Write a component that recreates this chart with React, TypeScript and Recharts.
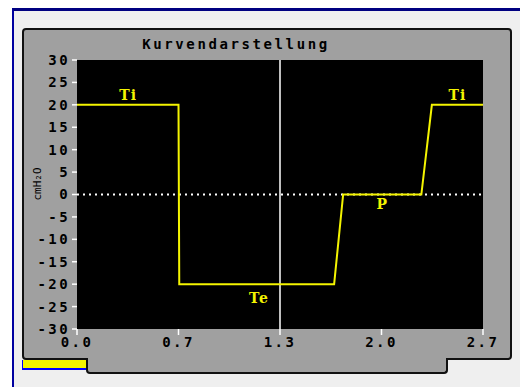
import { LineChart, Line, XAxis, YAxis, ReferenceLine, Scatter, ReferenceArea } from 'recharts';

// pressure curve (time in s, pressure in cmH2O)
const times = [0, 0.675, 0.68, 1.71, 1.77, 2.29, 2.36, 2.7];
const pressures = [20, 20, -20, -20, 0, 0, 20, 20];

const xTicks = [0, 0.675, 1.35, 2.025, 2.7];
const xTickLabels = ['0.0', '0.7', '1.3', '2.0', '2.7'];
const yTicks = [-30, -25, -20, -15, -10, -5, 0, 5, 10, 15, 20, 25, 30];

const phaseNames = ['Ti', 'Te', 'P', 'Ti'];
const phaseX = [0.34, 1.21, 2.03, 2.53];
const phaseY = [21, -24.3, -3.2, 21];

const cursorX = 1.35;

const curve = times.map((t, i) => ({ x: t, y: pressures[i] }));
const phases = phaseNames.map((name, i) => ({ x: phaseX[i], y: phaseY[i], name }));

const MONO = '"DejaVu Sans Mono", monospace';
const YELLOW = '#f4f400';
const PANEL = '#a0a0a0';

const tickStyle = { fill: '#000', fontFamily: MONO, fontWeight: 'bold', fontSize: 14, letterSpacing: 2.4 };

const PhaseLabel = (props: any) => {
  const { cx, cy, payload } = props;
  return (
    <text
      x={cx}
      y={cy}
      textAnchor="middle"
      fill={YELLOW}
      fontFamily='"DejaVu Serif", serif'
      fontWeight="bold"
      fontSize={14}
      letterSpacing={1}
    >
      {payload.name}
    </text>
  );
};

export default function App() {
  return (
    <div style={{ position: 'absolute', left: 0, top: 0, width: 520, height: 387, background: '#fff', overflow: 'hidden' }}>
      {/* window frame */}
      <div style={{ position: 'absolute', left: 12, top: 8, right: 0, bottom: 0, background: '#efefef', borderTop: '3px solid #000080', borderLeft: '2px solid #0000a0' }} />
      <div style={{ position: 'absolute', left: 22, top: 28, width: 486, height: 328, background: PANEL, border: '2px solid #111', borderRadius: 4 }} />
      <div style={{ position: 'absolute', left: 22, top: 360, width: 63, height: 8, background: YELLOW, borderLeft: '1px solid #0000ff', borderBottom: '2px solid #0000ff' }} />
      <div style={{ position: 'absolute', left: 86, top: 358, width: 358, height: 14, background: PANEL, border: '2px solid #111', borderTop: 'none', borderRadius: '0 0 4px 4px' }} />
      <div style={{ position: 'absolute', left: 0, top: 36, width: 472, textAlign: 'center', fontFamily: MONO, fontWeight: 'bold', fontSize: 14, letterSpacing: 2.6, color: '#000' }}>
        Kurvendarstellung
      </div>
      <div style={{ position: 'absolute', left: 37, top: 184, transform: 'translate(-50%, -50%) rotate(-90deg)', fontFamily: MONO, fontSize: 11, color: '#000', whiteSpace: 'nowrap' }}>
        cmH₂O
      </div>
      <div style={{ position: 'absolute', left: 0, top: 0 }}>
        <LineChart width={520} height={387} data={curve} margin={{ top: 60, right: 37, left: 22, bottom: 28 }}>
          <XAxis
            dataKey="x"
            type="number"
            domain={[0, 2.7]}
            ticks={xTicks}
            tickFormatter={(v: number) => xTickLabels[xTicks.indexOf(v)] ?? ''}
            axisLine={false}
            tickSize={6}
            tickLine={{ stroke: '#fff', strokeWidth: 1.5 }}
            tick={tickStyle}
            height={30}
            interval={0}
          />
          <YAxis
            dataKey="y"
            type="number"
            domain={[-30, 30]}
            ticks={yTicks}
            axisLine={false}
            tickSize={5}
            tickLine={{ stroke: '#fff', strokeWidth: 1.5 }}
            tick={tickStyle}
            width={55}
            interval={0}
          />
          <ReferenceArea x1={0} x2={2.7} y1={-30} y2={30} fill="#000" fillOpacity={1} stroke="none" ifOverflow="extendDomain" />
          <ReferenceLine y={0} stroke="#fff" strokeWidth={2} strokeDasharray="2 4" />
          <ReferenceLine x={cursorX} stroke="#fff" strokeWidth={1.5} />
          <Line type="linear" dataKey="y" stroke={YELLOW} strokeWidth={2} dot={false} isAnimationActive={false} />
          <Scatter data={phases} dataKey="y" shape={PhaseLabel} isAnimationActive={false} />
        </LineChart>
      </div>
    </div>
  );
}
